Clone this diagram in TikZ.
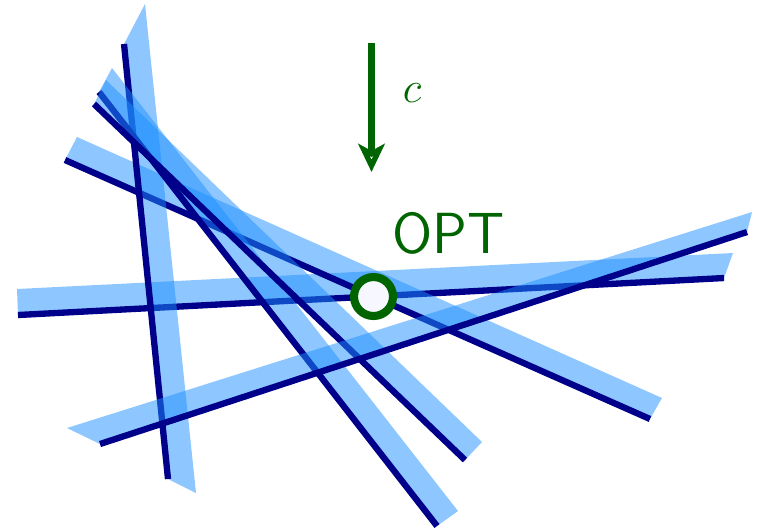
\documentclass[tikz,border=0pt]{standalone}
\usepackage{tikz}
\usetikzlibrary{arrows.meta,positioning}
\definecolor{bc}{RGB}{30,144,255}
\definecolor{lc}{RGB}{0,0,139}
\definecolor{gc}{RGB}{0,100,0}
\definecolor{wc}{RGB}{246,247,255}
\tikzset{band/.style={fill=bc,fill opacity=.5},
 bound/.style={draw=lc,line width=3.6pt},
 optpt/.style={circle,draw=gc,fill=wc,line width=4.6pt,minimum size=.78cm,inner sep=0pt},
 arr/.style={-{Stealth[open,length=16pt,width=15pt,inset=4pt]},draw=gc,line width=3.8pt},
 lab/.style={text=gc,inner sep=0pt}}

\begin{document}
\begin{tikzpicture}[x=.02cm,y=-.02cm]
\useasboundingbox (0,0) rectangle (759,529);
% constraints: line start, line end, band end, band start
\foreach \ax/\ay/\bx/\by/\cx/\cy/\dx/\dy in {18/315/724/278/733/253/17/289,
 65/160/650/419/662/398/77/137, 124/44/168/479/196/493/145/4,
 99/92/437/526/458/511/112/68, 94/104/465/460/482/442/106/80,
 100/444/747/232/752/212/67/428}{
 \fill[band] (\ax,\ay)--(\bx,\by)--(\cx,\cy)--(\dx,\dy)--cycle;
 \draw[bound] (\ax,\ay)--(\bx,\by);}
% objective
\coordinate (ctop) at (371.5,43);
\coordinate (cbot) at (371.5,172);
\draw[arr] (ctop)--(cbot);
\node[lab,font=\fontsize{35}{40}\selectfont] (clab) at (412,93) {$c$};
\node[optpt] (opt) at (373.5,296.5) {};
\node[lab,anchor=base west,font=\fontsize{33}{40}\selectfont\sffamily] (optlab) at (392,253) {OPT};
\end{tikzpicture}
\end{document}
